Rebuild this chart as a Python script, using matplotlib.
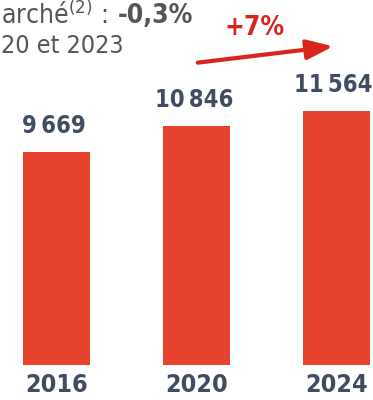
import matplotlib
matplotlib.use("Agg")
import matplotlib.pyplot as plt

years = ["2016", "2020", "2024"]
values = [9669, 10846, 11564]
value_labels = ["9 669", "10 846", "11 564"]
growth = "+7%"

plt.rcParams['font.family'] = ['DejaVu Sans']
plt.rcParams['font.stretch'] = 'condensed'

fig = plt.figure(figsize=(3.73, 4.0), dpi=100)
ax = fig.add_axes([0, 35/400, 1, 365/400])
ax.bar(range(len(years)), values, width=0.48, color='#e8432f')
ax.set_xlim(-56.5/140, (373-56.5)/140)
ax.set_ylim(0, 365/0.022)

for i, (v, lab) in enumerate(zip(values, value_labels)):
    ax.annotate(lab.replace(" ", "\u2009"), (i, v), xytext=(-2, 10), textcoords='offset points',
                ha='center', va='bottom', fontsize=17, fontweight='bold', color='#3f4c62')

ax.set_xticks(range(len(years)))
ax.set_xticklabels(years, fontsize=18, fontweight='bold', color='#3f4c62')
ax.tick_params(axis='x', length=0, pad=6)
ax.set_yticks([])
for s in ax.spines.values():
    s.set_visible(False)

# top text (the visible part of a wider caption)
fig.text(1/373, 1-16/400, "arché$^{(2)}$ :", ha='left', va='center', fontsize=19, color='#555555')
fig.text(193/373, 1-16/400, "-0,3%", ha='right', va='center', fontsize=19, color='#555555', fontweight='bold')
fig.text(1/373, 1-46/400, "20 et 2023", ha='left', va='center', fontsize=18, color='#555555')

# growth arrow
ax.annotate("", xy=(336/373, 1-46/400), xytext=(195/373, 1-63/400),
            xycoords='figure fraction', textcoords='figure fraction',
            arrowprops=dict(arrowstyle='-|>,head_length=1.6,head_width=0.6', color='#d9261c', lw=3))
fig.text(255/373, 1-28/400, growth, ha='center', va='center', fontsize=19, fontweight='bold', color='#d9261c')

fig.savefig("out.png", dpi=100)
